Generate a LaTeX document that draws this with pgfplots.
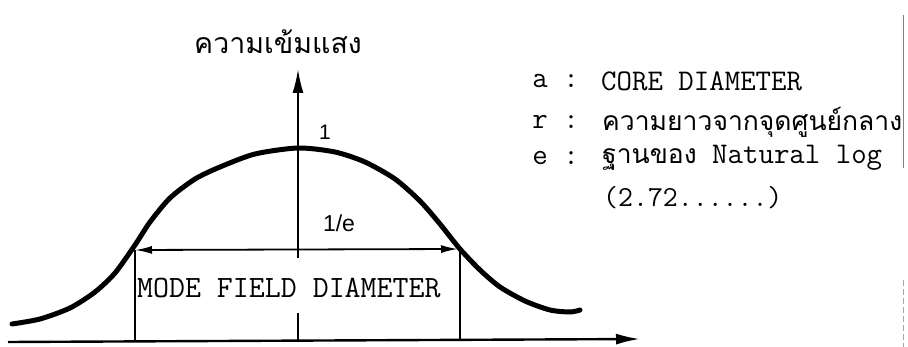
\documentclass[border=0pt]{standalone}
\usepackage{pgfplots}
\usepackage{pgfplotstable}
\pgfplotsset{compat=1.18}
\usetikzlibrary{arrows.meta}
\usepackage{fontspec}
\setmainfont{Liberation Sans}
\newfontfamily\thaifont[Script=Thai]{Loma}

\pgfplotstableread{
x y
12 23
40 28
70 39
95 55
115 74
135 102
150 125
170 149
195 168
220 180
255 193
298 199
335 195
365 185
395 168
420 146
440 123
460 98
480 77
500 60
525 46
550 37
570 35
580 37
}\curve

\begin{document}
\begin{tikzpicture}
\begin{axis}[at={(0,0)}, anchor=south west, scale only axis,
  width=908bp, height=347bp, xmin=0, xmax=908, ymin=0, ymax=347,
  hide axis, clip=false]
% Gaussian curve
\addplot[black, line width=5bp, smooth, tension=0.45, line cap=round] table[x=x,y=y] {\curve};
% x axis
\addplot[black, line width=2.4bp, -{Latex[length=24bp,width=11bp]}] coordinates {(8,5) (640,8)};
% y axis
\addplot[black, line width=2bp, -{Latex[length=24bp,width=11bp]}] coordinates {(298,89) (298,278)};
\addplot[black, line width=1.6bp] coordinates {(298,34) (298,6)};
% 1/e arrow
\addplot[black, line width=1.8bp, {Latex[length=17bp,width=8bp]}-{Latex[length=17bp,width=8bp]}] coordinates {(135,97) (458,98)};
% verticals
\addplot[black, line width=1.4bp] coordinates {(135,97) (135,5)};
\addplot[black, line width=1.4bp] coordinates {(460,98) (460,7)};
% scan edge line
\addplot[gray, line width=0.8bp] coordinates {(903,332) (903,179)};
\addplot[gray!70, line width=0.6bp, dash pattern=on 6bp off 3bp] coordinates {(903,67) (903,0)};
% texts
\node[font=\thaifont\fontsize{28.5bp}{32bp}\selectfont] at (axis cs:278,305) {ความเข้มแสง};
\node[font=\fontsize{21bp}{24bp}\selectfont] at (axis cs:325,215) {1};
\node[font=\fontsize{23bp}{26bp}\selectfont] at (axis cs:339,124) {1/e};
\node[anchor=west, inner sep=0pt, font=\ttfamily\fontsize{31bp}{34bp}\selectfont] at (axis cs:137,59) {MODE FIELD DIAMETER};
% legend
\node[inner sep=0pt, font=\ttfamily\fontsize{30bp}{34bp}\selectfont] at (axis cs:540,266) {a};
\node[inner sep=0pt, font=\ttfamily\fontsize{30bp}{34bp}\selectfont] at (axis cs:571,266) {:};
\node[anchor=west, inner sep=0pt, font=\ttfamily\fontsize{30bp}{34bp}\selectfont] at (axis cs:601,266) {CORE DIAMETER};
\node[inner sep=0pt, font=\ttfamily\fontsize{30bp}{34bp}\selectfont] at (axis cs:540,225) {r};
\node[inner sep=0pt, font=\ttfamily\fontsize{30bp}{34bp}\selectfont] at (axis cs:571,225) {:};
\node[anchor=west, inner sep=0pt, font=\thaifont\fontsize{26.5bp}{30bp}\selectfont] at (axis cs:602,225) {ความยาวจากจุดศูนย์กลาง};
\node[inner sep=0pt, font=\ttfamily\fontsize{30bp}{34bp}\selectfont] at (axis cs:540,189) {e};
\node[inner sep=0pt, font=\ttfamily\fontsize{30bp}{34bp}\selectfont] at (axis cs:571,189) {:};
\node[anchor=west, inner sep=0pt, font=\ttfamily\fontsize{30bp}{34bp}\selectfont] at (axis cs:602,189) {{\thaifont\fontsize{26.5bp}{30bp}\selectfont ฐานของ} Natural log};
\node[anchor=west, inner sep=0pt, font=\ttfamily\fontsize{29bp}{34bp}\selectfont] at (axis cs:603,149) {(2.72......)};
\end{axis}
\pgfresetboundingbox
\useasboundingbox (0,0) rectangle (908bp,347bp);
\end{tikzpicture}
\end{document}
